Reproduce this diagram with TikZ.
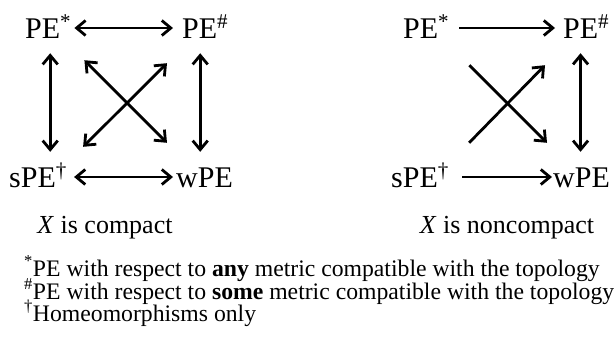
\documentclass[tikz,border=0pt]{standalone}
\usepackage{fontspec}
\setmainfont{Liberation Serif}
\usetikzlibrary{arrows.meta,positioning}

\begin{document}
\begin{tikzpicture}[
  x=1pt, y=-1pt,
  every node/.style={inner sep=0pt, anchor=base west},
  lbl/.style={font=\fontsize{30}{34}\selectfont, text height=20pt, text depth=0pt},
  capt/.style={font=\fontsize{26}{30}\selectfont, anchor=base},
  foot/.style={font=\fontsize{23.7}{26}\selectfont},
  both/.style={{Straight Barb[length=9pt,width=15pt]}-{Straight Barb[length=9pt,width=15pt]}, line width=2.8pt},
  one/.style={-{Straight Barb[length=9pt,width=15pt]}, line width=2.8pt}
]
  \useasboundingbox (0,0) rectangle (615,338);

  % Nodes -- compact case
  \node (cPEany)  [lbl] at (25,38)  {PE\textsuperscript{*}};
  \node (cPEsome) [lbl] at (182,38) {PE\textsuperscript{\#}};
  \node (csPE)    [lbl] at (9,187)  {sPE\textsuperscript{\textdagger}};
  \node (cwPE)    [lbl] at (176,187) {wPE};
  \node (ccapt)   [capt] at (105,233) {\textit{X} is compact};

  % Nodes -- noncompact case
  \node (nPEany)  [lbl] at (403,38) {PE\textsuperscript{*}};
  \node (nPEsome) [lbl] at (563,38) {PE\textsuperscript{\#}};
  \node (nsPE)    [lbl] at (391,187) {sPE\textsuperscript{\textdagger}};
  \node (nwPE)    [lbl] at (553,187) {wPE};
  \node (ncapt)   [capt] at (507,233) {\textit{X} is noncompact};

  % Footnotes
  \node (fany)  [foot] at (24,276) {\textsuperscript{*}PE with respect to \textbf{any} metric compatible with the topology};
  \node (fsome) [foot] at (24,299) {\textsuperscript{\#}PE with respect to \textbf{some} metric compatible with the topology};
  \node (fhom)  [foot] at (24,321) {\textsuperscript{\textdagger}Homeomorphisms only};

  % Paths -- compact case
  \draw [both, shorten <=3pt, shorten >=9pt] (cPEany.east) -- (cPEany.east -| cPEsome.west);
  \draw [both, shorten <=7pt, shorten >=3pt] (csPE.east) -- (csPE.east -| cwPE.west);
  \draw [both, shorten <=15pt, shorten >=15pt] ([xshift=2pt]cPEany.south) -- ([xshift=2pt]cPEany.south |- csPE.north);
  \draw [both, shorten <=15pt, shorten >=15pt] ([xshift=-5pt]cPEsome.south) -- ([xshift=-5pt]cPEsome.south |- cwPE.north);
  \draw [both] ([shift={(13,22)}]cPEany.south east) -- ([shift={(-9,-24)}]cwPE.north west);
  \draw [both] ([shift={(-15,25)}]cPEsome.south west) -- ([shift={(16,-20)}]csPE.north east);

  % Paths -- noncompact case
  \draw [one, shorten <=10pt, shorten >=8pt] (nPEany.east) -- (nPEany.east -| nPEsome.west);
  \draw [one, shorten <=13pt, shorten >=1pt] (nsPE.east) -- (nsPE.east -| nwPE.west);
  \draw [both, shorten <=15pt, shorten >=15pt] ([xshift=-1pt]nwPE.north |- nPEsome.south) -- ([xshift=-1pt]nwPE.north);
  \draw [one] ([shift={(20,27)}]nPEany.south east) -- ([shift={(-6,-24)}]nwPE.north west);
  \draw [one] ([shift={(20,-24)}]nsPE.north east) -- ([shift={(-18,27)}]nPEsome.south west);
\end{tikzpicture}
\end{document}
